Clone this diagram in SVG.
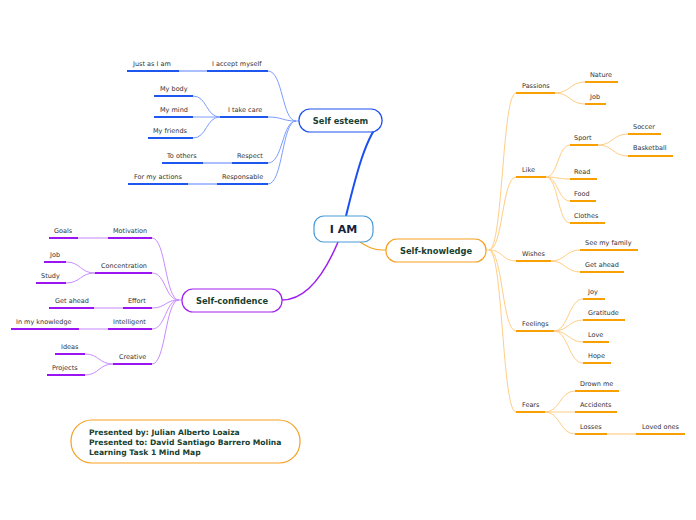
<svg xmlns="http://www.w3.org/2000/svg" width="696" height="520" viewBox="0 0 696 520">
<style>
text{font-family:"DejaVu Sans",Verdana,sans-serif}
.t{font-size:6.5px;fill:#333}
.n{font-size:8.3px;font-weight:bold;fill:#173f30;text-anchor:middle}
.p{font-size:7.6px;font-weight:bold;fill:#173f30}
.ub{stroke:#1e56f0;stroke-width:2;fill:none}
.lb{stroke:#7c9cff;stroke-width:1;fill:none}
.sb{stroke:#a9bfff;stroke-width:2;fill:none}
.up{stroke:#9b14f2;stroke-width:2;fill:none}
.lp{stroke:#c98cff;stroke-width:1;fill:none}
.sp{stroke:#e2c2ff;stroke-width:2;fill:none}
.uo{stroke:#f7a000;stroke-width:2;fill:none}
.lo{stroke:#ffcd85;stroke-width:1;fill:none}
.so{stroke:#ffe0b8;stroke-width:2;fill:none}
</style>
<rect width="696" height="520" fill="#fff"/>
<g id="connectors">
<path d="M346 216 C356 175 366 135 382 120" stroke="#1a4ff0" stroke-width="2" fill="none"/>
<path d="M338 242 C322 280 304 300 282 300" stroke="#a020f0" stroke-width="1.5" fill="none"/>
<path d="M360 242 C372 250 378 250 386 250" stroke="#f5a020" stroke-width="1.2" fill="none"/>
<g class="lb">
<path d="M299 121 H296 C282 121 283 71 268 71"/>
<path d="M296 121 C282 121 283 117 268 117"/>
<path d="M296 121 C282 121 283 163 268 163"/>
<path d="M296 121 C282 121 283 184 268 184"/>
<path d="M220 117 C206 117 207 96 193 96"/>
<path d="M220 117 H193"/>
<path d="M220 117 C206 117 207 138 193 138"/>
</g>
<path class="sb" d="M207 71 H179"/>
<path class="sb" d="M232 163 H203"/>
<path class="sb" d="M217 184 H188"/>
<g class="lp">
<path d="M182 300 H179 C165 300 166 238 152 238"/>
<path d="M179 300 C165 300 166 273 152 273"/>
<path d="M179 300 C165 300 166 308 152 308"/>
<path d="M179 300 C165 300 166 329 152 329"/>
<path d="M179 300 C165 300 166 364 152 364"/>
<path d="M95 273 C80 273 81 262 66 262"/>
<path d="M95 273 C80 273 81 283 66 283"/>
<path d="M113 364 C99 364 99 354 85 354"/>
<path d="M113 364 C99 364 99 375 85 375"/>
</g>
<path class="sp" d="M108 238 H78"/>
<path class="sp" d="M123 308 H94"/>
<path class="sp" d="M108 329 H79"/>
<g class="lo">
<path d="M486 250 H489 C503 250 502 93 516 93"/>
<path d="M489 250 C503 250 502 177 516 177"/>
<path d="M489 250 C503 250 502 261 516 261"/>
<path d="M489 250 C503 250 502 331 516 331"/>
<path d="M489 250 C503 250 502 412 516 412"/>
<path d="M555 93 C570 93 570 82 585 82"/>
<path d="M555 93 C570 93 570 104 585 104"/>
<path d="M546 177 C558 177 558 145 570 145"/>
<path d="M546 177 C558 177 558 179 570 179"/>
<path d="M546 177 C558 177 558 201 570 201"/>
<path d="M546 177 C558 177 558 223 570 223"/>
<path d="M598 145 C613 145 613 134 628 134"/>
<path d="M598 145 C613 145 613 156 628 156"/>
<path d="M551 261 C565 261 566 250 580 250"/>
<path d="M551 261 C565 261 566 272 580 272"/>
<path d="M554 331 C568 331 569 299 583 299"/>
<path d="M554 331 C568 331 569 320 583 320"/>
<path d="M554 331 C568 331 569 342 583 342"/>
<path d="M554 331 C568 331 569 363 583 363"/>
<path d="M545 412 C560 412 560 391 575 391"/>
<path d="M545 412 H575"/>
<path d="M545 412 C560 412 560 434 575 434"/>
</g>
<path class="so" d="M607 434 H636"/>
</g>
<g id="iam">
<rect x="314" y="216" width="59" height="26" rx="10" fill="#fff" stroke="#4a9ad8" stroke-width="1.2"/>
<text x="343.5" y="233" class="n" style="font-size:11px;fill:#14233f">I AM</text>
</g>
<g id="self-esteem">
<rect x="299" y="109" width="83" height="23" rx="11" fill="#fff" stroke="#1e50f0" stroke-width="1.2"/>
<text x="340.5" y="124" class="n">Self esteem</text>
</g>
<g id="self-confidence">
<rect x="182" y="289" width="100" height="23" rx="11" fill="#fff" stroke="#a020f0" stroke-width="1.2"/>
<text x="232" y="304" class="n">Self-confidence</text>
</g>
<g id="self-knowledge">
<rect x="386" y="239" width="100" height="23" rx="11" fill="#fff" stroke="#f5a020" stroke-width="1.2"/>
<text x="436" y="254" class="n">Self-knowledge</text>
</g>
<g id="se-items">
<g id="accept"><path class="ub" d="M207 71 H268"/><text class="t" x="212" y="66">I accept myself</text></g>
<g id="justas"><path class="ub" d="M127 71 H179"/><text class="t" x="133" y="66">Just as I am</text></g>
<g id="takecare"><path class="ub" d="M220 117 H268"/><text class="t" x="228" y="112">I take care</text></g>
<g id="body"><path class="ub" d="M154 96 H193"/><text class="t" x="160" y="91">My body</text></g>
<g id="mind"><path class="ub" d="M154 117 H193"/><text class="t" x="160" y="112">My mind</text></g>
<g id="friends"><path class="ub" d="M148 138 H193"/><text class="t" x="153" y="133">My friends</text></g>
<g id="respect"><path class="ub" d="M232 163 H268"/><text class="t" x="237" y="158">Respect</text></g>
<g id="others"><path class="ub" d="M162 163 H203"/><text class="t" x="167" y="158">To others</text></g>
<g id="responsable"><path class="ub" d="M217 184 H268"/><text class="t" x="222" y="179">Responsable</text></g>
<g id="actions"><path class="ub" d="M128 184 H188"/><text class="t" x="134" y="179">For my actions</text></g>
</g>
<g id="sc-items">
<g id="motivation"><path class="up" d="M108 238 H152"/><text class="t" x="113" y="233">Motivation</text></g>
<g id="goals"><path class="up" d="M49 238 H78"/><text class="t" x="54" y="233">Goals</text></g>
<g id="concentration"><path class="up" d="M95 273 H152"/><text class="t" x="101" y="268">Concentration</text></g>
<g id="job1"><path class="up" d="M44 262 H66"/><text class="t" x="50" y="257">Job</text></g>
<g id="study"><path class="up" d="M36 283 H66"/><text class="t" x="41" y="278">Study</text></g>
<g id="effort"><path class="up" d="M123 308 H152"/><text class="t" x="128" y="303">Effort</text></g>
<g id="getahead1"><path class="up" d="M49 308 H94"/><text class="t" x="55" y="303">Get ahead</text></g>
<g id="intelligent"><path class="up" d="M108 329 H152"/><text class="t" x="113" y="324">Intelligent</text></g>
<g id="knowledge"><path class="up" d="M11 329 H79"/><text class="t" x="16" y="324">In my knowledge</text></g>
<g id="creative"><path class="up" d="M113 364 H152"/><text class="t" x="119" y="359">Creative</text></g>
<g id="ideas"><path class="up" d="M55 354 H85"/><text class="t" x="61" y="349">Ideas</text></g>
<g id="projects"><path class="up" d="M47 375 H85"/><text class="t" x="52" y="370">Projects</text></g>
</g>
<g id="sk-items">
<g id="passions"><path class="uo" d="M516 93 H555"/><text class="t" x="522" y="88">Passions</text></g>
<g id="nature"><path class="uo" d="M585 82 H618"/><text class="t" x="590" y="77">Nature</text></g>
<g id="job2"><path class="uo" d="M585 104 H606"/><text class="t" x="590" y="99">Job</text></g>
<g id="like"><path class="uo" d="M516 177 H546"/><text class="t" x="522" y="172">Like</text></g>
<g id="sport"><path class="uo" d="M570 145 H598"/><text class="t" x="574" y="140">Sport</text></g>
<g id="soccer"><path class="uo" d="M628 134 H661"/><text class="t" x="633" y="129">Soccer</text></g>
<g id="basketball"><path class="uo" d="M628 156 H673"/><text class="t" x="633" y="150">Basketball</text></g>
<g id="read"><path class="uo" d="M570 179 H597"/><text class="t" x="574" y="174">Read</text></g>
<g id="food"><path class="uo" d="M570 201 H596"/><text class="t" x="574" y="196">Food</text></g>
<g id="clothes"><path class="uo" d="M570 223 H605"/><text class="t" x="574" y="218">Clothes</text></g>
<g id="wishes"><path class="uo" d="M516 261 H551"/><text class="t" x="522" y="256">Wishes</text></g>
<g id="family"><path class="uo" d="M580 250 H638"/><text class="t" x="585" y="245">See my family</text></g>
<g id="getahead2"><path class="uo" d="M580 272 H624"/><text class="t" x="585" y="267">Get ahead</text></g>
<g id="feelings"><path class="uo" d="M516 331 H554"/><text class="t" x="522" y="326">Feelings</text></g>
<g id="joy"><path class="uo" d="M583 299 H605"/><text class="t" x="588" y="294">Joy</text></g>
<g id="gratitude"><path class="uo" d="M583 320 H625"/><text class="t" x="588" y="315">Gratitude</text></g>
<g id="love"><path class="uo" d="M583 342 H609"/><text class="t" x="588" y="337">Love</text></g>
<g id="hope"><path class="uo" d="M583 363 H611"/><text class="t" x="588" y="358">Hope</text></g>
<g id="fears"><path class="uo" d="M516 412 H545"/><text class="t" x="522" y="407">Fears</text></g>
<g id="drown"><path class="uo" d="M575 391 H619"/><text class="t" x="580" y="386">Drown me</text></g>
<g id="accidents"><path class="uo" d="M575 412 H617"/><text class="t" x="580" y="407">Accidents</text></g>
<g id="losses"><path class="uo" d="M575 434 H607"/><text class="t" x="580" y="429">Losses</text></g>
<g id="lovedones"><path class="uo" d="M636 434 H685"/><text class="t" x="642" y="429">Loved ones</text></g>
</g>
<g id="presented">
<rect x="71" y="420" width="229" height="43" rx="21" fill="#fff" stroke="#f5a020" stroke-width="1.2"/>
<text class="p" x="89" y="435">Presented by: Julian Alberto Loaiza</text>
<text class="p" x="89" y="445">Presented to: David Santiago Barrero Molina</text>
<text class="p" x="89" y="455">Learning Task 1 Mind Map</text>
</g>
</svg>
